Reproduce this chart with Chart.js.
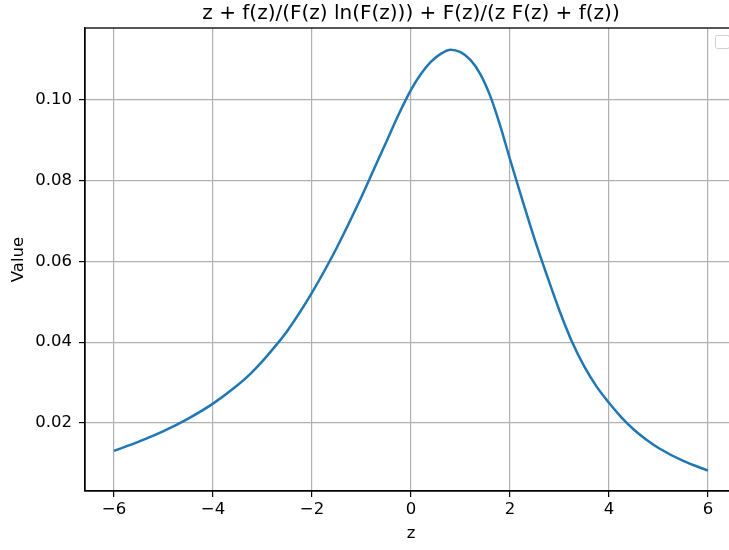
<!DOCTYPE html>
<html>
<head>
<meta charset="utf-8">
<script src="https://cdn.jsdelivr.net/npm/chart.js@4"></script>
<style>
    html, body { margin: 0; padding: 0; background: #fff; overflow: hidden; }
    #wrap { width: 729px; height: 550px; overflow: hidden; }
</style>
</head>
<body>
<div id="wrap"><canvas id="curveChart" width="760" height="550"></canvas></div>
<script>
// values
const zValues = [-6, -5.5, -5, -4.5, -4, -3.5, -3.25, -3, -2.75, -2.5, -2, -1.5, -1, -0.75, -0.5, -0.25, 0, 0.2, 0.4, 0.6, 0.8, 1.0, 1.2, 1.4, 1.6, 1.8, 2.0, 2.25, 2.5, 2.75, 3.0, 3.25, 3.5, 3.75, 4, 4.25, 4.5, 4.75, 5, 5.5, 6];
const curveValues = [0.0131, 0.0154, 0.0180, 0.0211, 0.0248, 0.0294, 0.0321, 0.0353, 0.0389, 0.0428, 0.0523, 0.0634, 0.0760, 0.0828, 0.0896, 0.0964, 0.1025, 0.1064, 0.1094, 0.1114, 0.1124, 0.1118, 0.1099, 0.1064, 0.1010, 0.0937, 0.0853, 0.0752, 0.0654, 0.0564, 0.0478, 0.0402, 0.0340, 0.0290, 0.0250, 0.0214, 0.0184, 0.0159, 0.0138, 0.0106, 0.0082];
const xTicks = [-6, -4, -2, 0, 2, 4, 6];
const yTicks = [0.02, 0.04, 0.06, 0.08, 0.10];
const titleText = 'z + f(z)/(F(z) ln(F(z))) + F(z)/(z F(z) + f(z))';

const fontFamily = '"DejaVu Sans", sans-serif';

// axes frame + empty legend box, like matplotlib
const framePlugin = {
    id: 'frame',
    afterDraw(chart) {
        const { ctx, chartArea } = chart;
        ctx.save();
        ctx.strokeStyle = '#000';
        ctx.lineWidth = 1.3;
        ctx.strokeRect(chartArea.left, chartArea.top, chartArea.right - chartArea.left, chartArea.bottom - chartArea.top);
        // empty legend frame
        ctx.strokeStyle = '#d0d0d0';
        ctx.lineWidth = 1;
        ctx.beginPath();
        ctx.roundRect(chartArea.right - 21.5, chartArea.top + 7.5, 14, 13, 2);
        ctx.stroke();
        ctx.restore();
    }
};

const ctx = document.getElementById('curveChart').getContext('2d');
new Chart(ctx, {
    type: 'line',
    data: {
        datasets: [{
            data: zValues.map((z, i) => ({ x: z, y: curveValues[i] })),
            borderColor: '#1f77b4',
            borderWidth: 2.5,
            pointRadius: 0,
            cubicInterpolationMode: 'monotone',
            fill: false
        }]
    },
    options: {
        responsive: false,
        animation: false,
        devicePixelRatio: 1,
        layout: { padding: { left: 0, right: 23, top: 0, bottom: 0 } },
        plugins: {
            legend: { display: false },
            tooltip: { enabled: false },
            title: {
                display: true,
                text: titleText,
                fullSize: false,
                color: '#000',
                font: { family: fontFamily, size: 20, weight: 'normal', lineHeight: 1.2 },
                padding: { top: 2, bottom: 2 }
            }
        },
        scales: {
            x: {
                type: 'linear',
                min: -6.586,
                max: 6.586,
                afterBuildTicks: (scale) => { scale.ticks = xTicks.map(v => ({ value: v })); },
                afterFit: (scale) => { scale.height = 59; },
                ticks: {
                    color: '#000',
                    font: { family: fontFamily, size: 16.5 },
                    padding: 3,
                    maxRotation: 0,
                    callback: (v) => String(v).replace('-', '\u2212')
                },
                grid: { color: '#b0b0b0', lineWidth: 1.2, tickColor: '#000', tickLength: 6 },
                border: { color: '#000', width: 1.3 },
                title: {
                    display: true,
                    text: 'z',
                    color: '#000',
                    font: { family: fontFamily, size: 16.5, lineHeight: 1.2 },
                    padding: { top: 0, bottom: 6 }
                }
            },
            y: {
                type: 'linear',
                min: 0.00316,
                max: 0.1178,
                afterBuildTicks: (scale) => { scale.ticks = yTicks.map(v => ({ value: v })); },
                afterFit: (scale) => { scale.width = 85; },
                ticks: {
                    color: '#000',
                    font: { family: fontFamily, size: 16.5 },
                    padding: 7,
                    callback: (v) => v.toFixed(2)
                },
                grid: { color: '#b0b0b0', lineWidth: 1.2, tickColor: '#000', tickLength: 6 },
                border: { color: '#000', width: 1.3 },
                title: {
                    display: true,
                    text: 'Value',
                    color: '#000',
                    font: { family: fontFamily, size: 16.5, lineHeight: 1.2 },
                    padding: { top: 9, bottom: 0 }
                }
            }
        }
    },
    plugins: [framePlugin]
});
</script>
</body>
</html>
